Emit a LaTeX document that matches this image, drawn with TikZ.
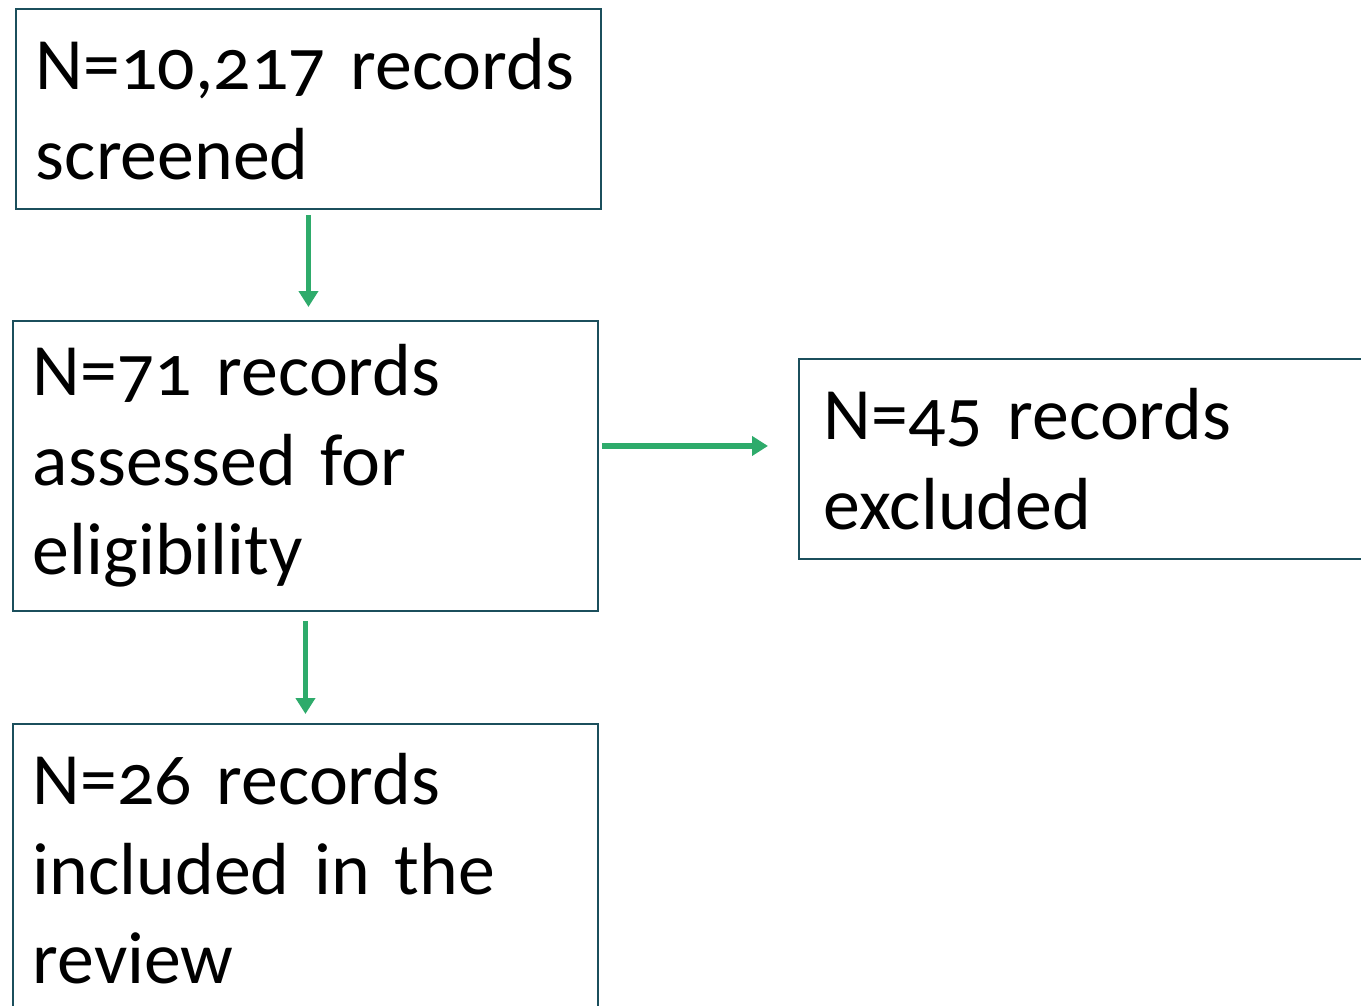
\documentclass[tikz,border=0pt]{standalone}
\usepackage{fontspec}
\setmainfont{Carlito}[Numbers=OldStyle]
\usetikzlibrary{calc,positioning,arrows.meta}
\definecolor{boxline}{HTML}{1B4F5C}
\definecolor{flowgreen}{HTML}{2EAB6B}
\newcommand{\recordfont}{\fontsize{42}{51}\selectfont\fontdimen2\font=0.1em\fontdimen3\font=0pt\fontdimen4\font=0pt\relax}

\begin{document}
\begin{tikzpicture}[
  record/.style={draw=boxline, line width=1.1pt, anchor=north west, align=left,
    inner xsep=0.4cm, text width=10.9cm, minimum width=11.7cm,
    font=\recordfont},
  flow/.style={draw=flowgreen, line width=3.2pt,
    -{Triangle[length=0.32cm,width=0.38cm]}}]
% frame of the picture
\useasboundingbox (0,0) rectangle (27.22,-20.12);
\clip (0,0) rectangle (27.22,-20.12);
% boxes
\node[record, minimum height=4cm] (screened) at (0.30,-0.16) {N=10,217 records\\screened};
\node[record, minimum height=5.8cm] (assessed) at (0.24,-6.40) {N=71 records\\assessed for\\eligibility};
\node[record, minimum height=4cm, minimum width=12cm, text width=11cm] (excluded) at (15.96,-7.16) {N=45 records\\excluded};
\node[record, minimum height=5.8cm] (included) at (0.24,-14.46) {N=26 records\\included in the\\review};
% arrows
\draw[flow, shorten <=0.1cm, shorten >=0.26cm] (screened.south) -- (screened.south |- assessed.north);
\draw[flow, shorten <=0.18cm, shorten >=0.18cm] (assessed.south) -- (included.north);
\coordinate (side) at ($(assessed.east)+(0,0.4)$);
\draw[flow, shorten <=0.06cm, shorten >=0.6cm] (side) -- (side -| excluded.west);
\end{tikzpicture}
\end{document}
